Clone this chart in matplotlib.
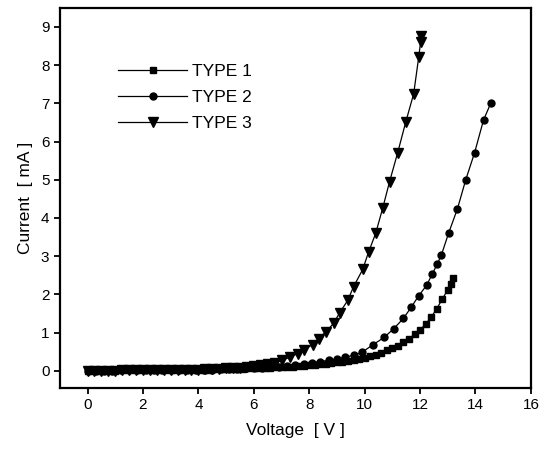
import matplotlib
matplotlib.use("Agg")
import matplotlib.pyplot as plt

# Type 1 (squares)
v1 = [0.0, 0.2, 0.4, 0.6, 0.8, 1.0, 1.2, 1.4, 1.6, 1.8, 2.0, 2.2, 2.4, 2.6, 2.8, 3.0,
      3.2, 3.4, 3.6, 3.8, 4.0, 4.2, 4.4, 4.6, 4.8, 5.0, 5.2, 5.4, 5.6, 5.8, 6.0, 6.2,
      6.4, 6.6, 6.8, 7.0, 7.2, 7.4, 7.6, 7.8, 8.0, 8.2, 8.4, 8.6, 8.8, 9.0, 9.2, 9.4,
      9.6, 9.8, 10.0, 10.2, 10.4, 10.6, 10.8, 11.0, 11.2, 11.4, 11.6, 11.8, 12.0, 12.2,
      12.4, 12.6, 12.8, 13.0, 13.1, 13.2]
i1 = [0.0, 0.0, 0.0, 0.0, 0.0, 0.0, 0.01, 0.01, 0.01, 0.01, 0.01, 0.01, 0.01, 0.02, 0.02, 0.02,
      0.02, 0.02, 0.02, 0.03, 0.03, 0.03, 0.03, 0.04, 0.04, 0.04, 0.05, 0.05, 0.05, 0.06, 0.06, 0.07,
      0.07, 0.08, 0.09, 0.10, 0.10, 0.11, 0.12, 0.13, 0.14, 0.15, 0.17, 0.18, 0.20, 0.22, 0.23, 0.25,
      0.27, 0.30, 0.34, 0.38, 0.42, 0.47, 0.53, 0.59, 0.66, 0.74, 0.84, 0.95, 1.07, 1.22,
      1.40, 1.62, 1.87, 2.12, 2.28, 2.42]

# Type 2 (circles)
v2 = [0.0, 0.3, 0.6, 0.9, 1.2, 1.5, 1.8, 2.1, 2.4, 2.7, 3.0, 3.3, 3.6, 3.9, 4.2, 4.5,
      4.8, 5.1, 5.4, 5.7, 6.0, 6.3, 6.6, 6.9, 7.2, 7.5, 7.8, 8.1, 8.4, 8.7, 9.0, 9.3,
      9.6, 9.9, 10.3, 10.7, 11.05, 11.4, 11.68, 11.95, 12.24, 12.44, 12.62, 12.77, 13.03, 13.35,
      13.65, 13.97, 14.29, 14.55]
i2 = [0.0, 0.0, 0.0, 0.0, 0.01, 0.01, 0.01, 0.01, 0.01, 0.02, 0.02, 0.02, 0.02, 0.03, 0.03, 0.03,
      0.04, 0.04, 0.05, 0.06, 0.07, 0.08, 0.09, 0.11, 0.13, 0.15, 0.18, 0.21, 0.24, 0.27, 0.31, 0.35,
      0.41, 0.48, 0.68, 0.87, 1.10, 1.37, 1.66, 1.96, 2.24, 2.53, 2.79, 3.03, 3.60, 4.24,
      5.00, 5.71, 6.56, 7.00]

# Type 3 (down triangles)
v3 = [0.0, 0.25, 0.5, 0.75, 1.0, 1.25, 1.5, 1.75, 2.0, 2.25, 2.5, 2.75, 3.0, 3.25, 3.5, 3.75,
      4.0, 4.25, 4.5, 4.75, 5.0, 5.25, 5.5, 5.75, 6.0, 6.25, 6.5, 6.75, 7.0, 7.3, 7.58, 7.8,
      8.12, 8.34, 8.6, 8.88, 9.1, 9.39, 9.6, 9.93, 10.14, 10.4, 10.65, 10.9, 11.19, 11.48,
      11.77, 11.95, 12.02, 12.05]
i3 = [0.0, 0.0, 0.0, 0.0, 0.0, 0.01, 0.01, 0.01, 0.01, 0.01, 0.01, 0.02, 0.02, 0.02, 0.02, 0.03,
      0.03, 0.04, 0.04, 0.05, 0.06, 0.07, 0.08, 0.10, 0.12, 0.14, 0.17, 0.21, 0.27, 0.35, 0.45, 0.55,
      0.68, 0.84, 1.02, 1.24, 1.52, 1.84, 2.20, 2.65, 3.10, 3.60, 4.25, 4.95, 5.70, 6.50,
      7.25, 8.20, 8.60, 8.75]

labels = ["TYPE 1", "TYPE 2", "TYPE 3"]

plt.rcParams['font.family'] = ['Liberation Sans', 'DejaVu Sans']

fig = plt.figure(figsize=(5.49, 4.58), dpi=100)
ax = fig.add_axes([0.109, 0.153, 0.858, 0.830])

ax.plot(v1, i1, color="black", lw=0.9, marker="s", ms=5, label=labels[0])
ax.plot(v2, i2, color="black", lw=0.9, marker="o", ms=5, label=labels[1])
ax.plot(v3, i3, color="black", lw=0.9, marker="v", ms=6.5, label=labels[2])

ax.set_xlim(-1, 16)
ax.set_ylim(-0.45, 9.5)
ax.set_xticks(range(0, 17, 2))
ax.set_yticks(range(0, 10))
ax.tick_params(direction="out", length=4, width=1.3, labelsize=11, colors="black")
for s in ax.spines.values():
    s.set_linewidth(1.6)

ax.set_xlabel("Voltage  [ V ]", fontsize=12.5, labelpad=8)
ax.set_ylabel("Current  [ mA ]", fontsize=12.5, labelpad=6)

ax.legend(loc="upper left", bbox_to_anchor=(0.123, 0.852), frameon=False, fontsize=12.5,
          handlelength=4.0, handletextpad=0.3, labelspacing=0.62,
          borderpad=0, borderaxespad=0)

fig.savefig("out.png", dpi=100)
